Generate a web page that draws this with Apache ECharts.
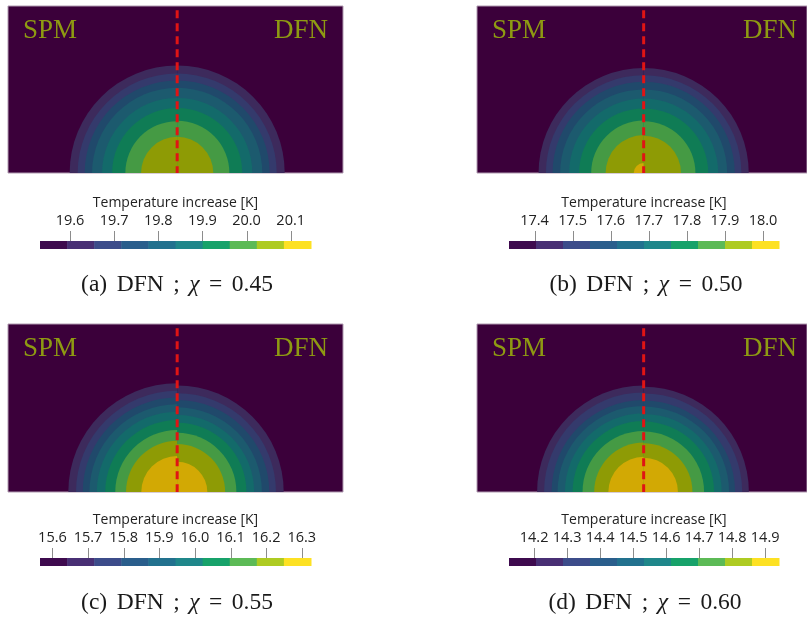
<!DOCTYPE html>
<html><head><meta charset="utf-8">
<script src="https://cdn.jsdelivr.net/npm/echarts@6/dist/echarts.min.js"></script>
<style>html,body{margin:0;padding:0;background:#fff;}#c{width:807px;height:620px;}</style>
</head><body><div id="c"></div>
<script>
// ---------------- data ----------------
const panelLetters = ['a', 'b', 'c', 'd'];
const chiValues = ['0.45', '0.50', '0.55', '0.60'];
const sideLabels = ['SPM', 'DFN'];
const colorbarTitle = 'Temperature increase [K]';
const binCount = 10;

const rangeA = [19.532, 20.146];
const rangeB = [17.333, 18.042];
const rangeC = [15.565, 16.326];
const rangeD = [14.124, 14.942];

const ticksA = [19.6, 19.7, 19.8, 19.9, 20.0, 20.1];
const ticksB = [17.4, 17.5, 17.6, 17.7, 17.8, 17.9, 18.0];
const ticksC = [15.6, 15.7, 15.8, 15.9, 16.0, 16.1, 16.2, 16.3];
const ticksD = [14.2, 14.3, 14.4, 14.5, 14.6, 14.7, 14.8, 14.9];

// outer radius of each colour bin (bin 1, 2, ...) per half; unit = image height
const spmRadiiA = [0.643, 0.595, 0.553, 0.509, 0.449, 0.389, 0.310, 0.216];
const dfnRadiiA = [0.643, 0.595, 0.553, 0.509, 0.449, 0.389, 0.312, 0.216];
const spmRadiiB = [0.633, 0.589, 0.549, 0.503, 0.449, 0.389, 0.316, 0.229, 0.060];
const dfnRadiiB = [0.633, 0.589, 0.549, 0.503, 0.449, 0.389, 0.312, 0.225];
const spmRadiiC = [0.649, 0.603, 0.563, 0.523, 0.479, 0.429, 0.369, 0.305, 0.214];
const dfnRadiiC = [0.635, 0.589, 0.549, 0.505, 0.459, 0.413, 0.353, 0.286, 0.180];
const spmRadiiD = [0.640, 0.598, 0.553, 0.517, 0.473, 0.427, 0.367, 0.297, 0.212];
const dfnRadiiD = [0.632, 0.592, 0.549, 0.513, 0.469, 0.423, 0.363, 0.293, 0.206];

// ---------------- styles ----------------
const barPalette = ['#3e0a4e', '#482f74', '#3c4c8a', '#2a5e8c', '#22718e', '#1f878a', '#17a26a', '#5cba56', '#aecb22', '#fde123'];
const imgPalette = ['#3b003a', '#3d2a5c', '#343a6c', '#20496b', '#1c5a6e', '#136a6a', '#0f7c55', '#459a44', '#8e9b05', '#d2a904'];

const panels = [
  { range: rangeA, ticks: ticksA, spm: spmRadiiA, dfn: dfnRadiiA },
  { range: rangeB, ticks: ticksB, spm: spmRadiiB, dfn: dfnRadiiB },
  { range: rangeC, ticks: ticksC, spm: spmRadiiC, dfn: dfnRadiiC },
  { range: rangeD, ticks: ticksD, spm: spmRadiiD, dfn: dfnRadiiD }
];
const layout = [
  { imgLeft: 8,   imgTop: 6,   imgH: 167, cbLeft: 40,  cbTop: 241, cbW: 271, capX: 177, capY: 285 },
  { imgLeft: 477, imgTop: 6,   imgH: 167, cbLeft: 509, cbTop: 241, cbW: 270, capX: 646, capY: 285 },
  { imgLeft: 8,   imgTop: 324, imgH: 168, cbLeft: 40,  cbTop: 558, cbW: 271, capX: 177, capY: 603 },
  { imgLeft: 477, imgTop: 324, imgH: 168, cbLeft: 509, cbTop: 558, cbW: 270, capX: 645, capY: 603 }
];
const IMG_W = 335;
const sansFont = 'Open Sans';
const serifFont = 'Liberation Serif';
const TICK_LEN = 10;

const grid = [], xAxis = [], yAxis = [], series = [], graphic = [];

panels.forEach((p, i) => {
  const L = layout[i];
  // ---- image grid ----
  const gi = grid.length;
  grid.push({ left: L.imgLeft, top: L.imgTop, width: IMG_W, height: L.imgH, show: true,
              backgroundColor: imgPalette[0], borderColor: '#b09ab0', borderWidth: 1 });
  xAxis.push({ type: 'value', gridIndex: gi, min: -1.01, max: 0.99, show: false });
  yAxis.push({ type: 'value', gridIndex: gi, min: 0, max: 1, show: false });
  const ringData = [];
  p.spm.forEach((r, k) => ringData.push([0, r, k + 1]));
  p.dfn.forEach((r, k) => ringData.push([1, r, k + 1]));
  ringData.sort((u, v) => v[1] - u[1]);
  series.push({
    type: 'custom', xAxisIndex: gi, yAxisIndex: gi, data: ringData, silent: true,
    renderItem: (params, api) => {
      const c = api.coord([0, 0]);
      const s = api.size([api.value(1), api.value(1)]);
      const r = (s[0] + s[1]) / 2;
      const side = api.value(0);
      return {
        type: 'sector',
        shape: { cx: c[0], cy: c[1], r: r, r0: 0,
                 startAngle: side === 0 ? Math.PI : Math.PI * 1.5,
                 endAngle: side === 0 ? Math.PI * 1.5 : Math.PI * 2, clockwise: true },
        style: { fill: imgPalette[api.value(2)] }
      };
    }
  });
  series.push({
    type: 'line', xAxisIndex: gi, yAxisIndex: gi, symbol: 'none', silent: true,
    data: [[0, 0.975], [0, 0]],
    lineStyle: { color: '#e01414', width: 3, type: [8, 5] }
  });
  graphic.push({ type: 'text', x: L.imgLeft + 15, y: L.imgTop + 25, silent: true,
    style: { text: sideLabels[0], fill: '#8e9a12', font: '27px "Liberation Serif"', align: 'left', verticalAlign: 'middle' } });
  graphic.push({ type: 'text', x: L.imgLeft + 320, y: L.imgTop + 25, silent: true,
    style: { text: sideLabels[1], fill: '#8e9a12', font: '27px "Liberation Serif"', align: 'right', verticalAlign: 'middle' } });

  // ---- colour bar grid ----
  const ci = grid.length;
  grid.push({ left: L.cbLeft, top: L.cbTop, width: L.cbW, height: 8 });
  xAxis.push({
    type: 'value', gridIndex: ci, min: p.range[0], max: p.range[1], position: 'top',
    axisLine: { show: false }, splitLine: { show: false }, axisTick: { show: false },
    axisLabel: { customValues: p.ticks, formatter: v => v.toFixed(1), margin: 13,
                 fontFamily: sansFont, fontSize: 14.5, color: '#222' },
    name: colorbarTitle, nameLocation: 'middle', nameGap: 31,
    nameTextStyle: { fontFamily: sansFont, fontSize: 14, color: '#222' }
  });
  yAxis.push({ type: 'value', gridIndex: ci, min: 0, max: 1, show: false });
  const step = (p.range[1] - p.range[0]) / binCount;
  const binData = [];
  for (let k = 0; k < binCount; k++) binData.push([p.range[0] + k * step, p.range[0] + (k + 1) * step, k]);
  series.push({
    type: 'custom', xAxisIndex: ci, yAxisIndex: ci, data: binData, silent: true,
    renderItem: (params, api) => {
      const p0 = api.coord([api.value(0), 1]);
      const p1 = api.coord([api.value(1), 0]);
      return { type: 'rect', shape: { x: p0[0], y: p0[1], width: p1[0] - p0[0] + 0.5, height: p1[1] - p0[1] },
               style: { fill: barPalette[api.value(2)] } };
    }
  });
  // tick marks, placed on the colour bar's value scale
  series.push({
    type: 'custom', xAxisIndex: ci, yAxisIndex: ci, data: p.ticks.map(t => [t]), silent: true, clip: false,
    renderItem: (params, api) => {
      const q = api.coord([api.value(0), 1]);
      const x = Math.round(q[0]) + 0.5;
      return { type: 'line', shape: { x1: x, y1: q[1], x2: x, y2: q[1] - TICK_LEN },
               style: { stroke: '#8c8c8c', lineWidth: 1 } };
    }
  });

  // ---- caption ----
  graphic.push({ type: 'text', x: L.capX, y: L.capY, silent: true,
    style: {
      text: '{n|(' + panelLetters[i] + ')}{s| }{n|DFN}{s| }{n|;}{s| }{i|χ}{s| }{n|=}{s| }{n|' + chiValues[i] + '}',
      align: 'center', verticalAlign: 'middle',
      rich: {
        n: { fontFamily: serifFont, fontSize: 23.5, fill: '#1a1a1a' },
        i: { fontFamily: serifFont, fontStyle: 'italic', fontSize: 23.5, fill: '#1a1a1a' },
        s: { fontFamily: serifFont, fontSize: 23.5, width: 9.5 }
      }
    } });
});

const chart = echarts.init(document.getElementById('c'), null, { renderer: 'canvas', width: 807, height: 620 });
chart.setOption({ animation: false, backgroundColor: '#ffffff', grid, xAxis, yAxis, series, graphic });
</script>
</body></html>
